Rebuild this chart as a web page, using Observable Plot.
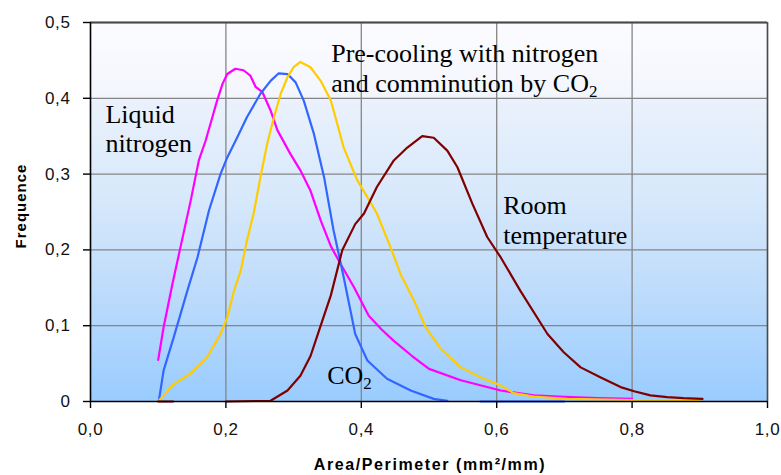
<!DOCTYPE html>
<html>
<head>
<meta charset="utf-8">
<script src="https://cdn.jsdelivr.net/npm/d3@7"></script>
<script src="https://cdn.jsdelivr.net/npm/@observablehq/plot@0.6"></script>
<style>
  html, body { margin: 0; padding: 0; background: #fff; }
</style>
</head>
<body>
<div id="chart"></div>
<script>
// ---- Data ----
const xTicks = [0, 0.2, 0.4, 0.6, 0.8, 1.0];
const yTicks = [0, 0.1, 0.2, 0.3, 0.4, 0.5];

// Liquid nitrogen (magenta)
const liquidX = [0.100,0.108,0.121,0.133,0.148,0.155,0.160,0.170,0.180,0.187,0.195,0.202,0.214,0.226,0.236,0.244,0.254,0.266,0.276,0.295,0.310,0.325,0.340,0.355,0.369,0.389,0.411,0.430,0.448,0.475,0.500,0.547,0.606,0.655,0.699,0.750,0.800];
const liquidY = [0.055,0.098,0.155,0.204,0.265,0.296,0.318,0.344,0.375,0.397,0.419,0.432,0.439,0.437,0.430,0.415,0.408,0.384,0.358,0.327,0.305,0.278,0.239,0.205,0.182,0.151,0.113,0.095,0.080,0.060,0.043,0.028,0.0145,0.008,0.006,0.0045,0.0035];

// CO2 (blue)
const co2X = [0.101,0.108,0.123,0.143,0.158,0.175,0.192,0.202,0.217,0.231,0.251,0.266,0.278,0.291,0.303,0.315,0.330,0.345,0.359,0.374,0.391,0.409,0.438,0.473,0.507,0.527,0.550,0.576,0.700];
const co2Y = [0.001,0.041,0.085,0.146,0.190,0.252,0.300,0.322,0.349,0.375,0.406,0.423,0.433,0.432,0.421,0.397,0.353,0.296,0.226,0.164,0.089,0.054,0.030,0.0145,0.0035,0.001,null,0,0];

// Pre-cooling with nitrogen and comminution by CO2 (yellow)
const precoolX = [0.101,0.123,0.148,0.172,0.192,0.202,0.212,0.222,0.231,0.241,0.251,0.261,0.271,0.281,0.291,0.300,0.310,0.325,0.340,0.355,0.374,0.394,0.414,0.423,0.443,0.458,0.478,0.495,0.517,0.547,0.576,0.606,0.625,0.655,0.704,0.800,0.900];
const precoolY = [0.001,0.023,0.037,0.058,0.089,0.111,0.146,0.173,0.212,0.248,0.296,0.340,0.375,0.406,0.428,0.441,0.448,0.441,0.423,0.397,0.335,0.292,0.262,0.248,0.204,0.168,0.133,0.098,0.070,0.045,0.032,0.021,0.011,0.0066,0.0035,0.002,0.002];

// Room temperature (dark red)
const roomX = [0.100,0.122,0.160,0.200,0.266,0.291,0.310,0.325,0.340,0.355,0.372,0.391,0.404,0.423,0.448,0.468,0.490,0.507,0.527,0.542,0.564,0.586,0.606,0.635,0.675,0.699,0.724,0.753,0.783,0.803,0.827,0.852,0.876,0.904];
const roomY = [0,0,null,0,0.001,0.0145,0.034,0.060,0.100,0.140,0.200,0.234,0.248,0.283,0.318,0.335,0.350,0.348,0.331,0.309,0.261,0.217,0.190,0.146,0.089,0.065,0.045,0.032,0.019,0.0136,0.008,0.0057,0.0044,0.0035];

// Annotation lines (data coordinates of each line's baseline start)
const labelText = ["Liquid", "nitrogen", "Pre-cooling with nitrogen", "and comminution by CO\u2082", "Room", "temperature", "CO\u2082"];
const labelX    = [0.022, 0.022, 0.3555, 0.3555, 0.6096, 0.6096, 0.3496];
const labelY    = [0.3668, 0.3285, 0.4476, 0.408, 0.2476, 0.208, 0.0234];

const series = [
  {xs: liquidX, ys: liquidY, color: "#ff00ff"},
  {xs: co2X, ys: co2Y, color: "#3366ff"},
  {xs: precoolX, ys: precoolY, color: "#ffcc00"},
  {xs: roomX, ys: roomY, color: "#800000"}
];

const fmt = d => d.toFixed(1).replace(".", ",");
const fmtY = d => d === 0 ? "0" : d.toFixed(1).replace(".", ",");

const labels = labelText.map((t, i) => ({text: t, x: labelX[i], y: labelY[i]}));

const svg = Plot.plot({
  width: 781,
  height: 475,
  marginTop: 22,
  marginRight: 14,
  marginBottom: 74,
  marginLeft: 90,
  style: {fontFamily: "'Liberation Sans', Arial, sans-serif", fontSize: "17px", background: "white", color: "black"},
  x: {domain: [0, 1], label: null},
  y: {domain: [0, 0.5], label: null},
  marks: [
    Plot.frame({fill: "url(#bgGrad)", stroke: "none"}),
    Plot.gridX(xTicks.filter(d => d > 0), {stroke: "#858585", strokeOpacity: 1, strokeWidth: 1.3}),
    Plot.gridY(yTicks.filter(d => d > 0), {stroke: "#858585", strokeOpacity: 1, strokeWidth: 1.3}),
    Plot.ruleY([0.5], {stroke: "#4a4a4a", strokeWidth: 1.8}),
    Plot.ruleX([1.0], {stroke: "#4a4a4a", strokeWidth: 1.5}),
    ...series.map(s => Plot.line(s.xs.map((x, i) => ({x, y: s.ys[i]})), {
      x: "x", y: "y", stroke: s.color, strokeWidth: 2.2
    })),
    Plot.ruleX([0], {stroke: "black", strokeWidth: 1.6}),
    Plot.ruleY([0], {stroke: "black", strokeWidth: 1.6}),
    Plot.axisX(xTicks, {tickSize: 7, tickPadding: 14, tickFormat: fmt, label: null, fontSize: 17, stroke: "black", strokeWidth: 1.4}),
    Plot.axisY(yTicks, {tickSize: 7, tickPadding: 13, tickFormat: fmtY, label: null, fontSize: 17, stroke: "black", strokeWidth: 1.4}),
    Plot.text(labels, {
      x: "x", y: "y", text: "text", textAnchor: "start", lineAnchor: "bottom",
      fontFamily: "'Liberation Serif', 'Times New Roman', serif", fontSize: 26, fill: "black"
    })
  ]
});

// gradient background definition
const ns = "http://www.w3.org/2000/svg";
const defs = document.createElementNS(ns, "defs");
const grad = document.createElementNS(ns, "linearGradient");
grad.setAttribute("id", "bgGrad");
grad.setAttribute("x1", "0"); grad.setAttribute("y1", "0");
grad.setAttribute("x2", "0"); grad.setAttribute("y2", "1");
[["0", "#fcfcff"], ["0.19", "#f4f6fd"], ["0.21", "#eaf1fc"], ["0.45", "#d8e9fb"], ["0.7", "#bfdcfb"], ["1", "#99ccff"]].forEach(([o, c]) => {
  const st = document.createElementNS(ns, "stop");
  st.setAttribute("offset", o); st.setAttribute("stop-color", c);
  grad.appendChild(st);
});
defs.appendChild(grad);
svg.insertBefore(defs, svg.firstChild);

// letter spacing for tick labels
svg.querySelectorAll("g[aria-label='x-axis tick label'] text, g[aria-label='y-axis tick label'] text").forEach(t => {
  t.setAttribute("letter-spacing", "0.6");
  t.setAttribute("fill", "#111");
});

// subscript 2
const walker = document.createTreeWalker(svg, NodeFilter.SHOW_TEXT);
const nodes = [];
while (walker.nextNode()) if (walker.currentNode.nodeValue.includes("\u2082")) nodes.push(walker.currentNode);
nodes.forEach(n => {
  const parts = n.nodeValue.split("\u2082");
  const parent = n.parentNode;
  const frag = document.createDocumentFragment();
  parts.forEach((p, i) => {
    if (p) frag.appendChild(document.createTextNode(p));
    if (i < parts.length - 1) {
      const ts = document.createElementNS(ns, "tspan");
      ts.setAttribute("font-size", "17");
      ts.setAttribute("dy", "5");
      ts.textContent = "2";
      frag.appendChild(ts);
    }
  });
  parent.replaceChild(frag, n);
});

// axis titles
const sel = d3.select(svg);
sel.append("text")
  .attr("transform", "translate(26,206) rotate(-90)")
  .attr("text-anchor", "middle")
  .attr("font-weight", "bold")
  .attr("font-size", 15)
  .attr("letter-spacing", "1")
  .attr("fill", "black")
  .text("Frequence");
sel.append("text")
  .attr("x", 430).attr("y", 470)
  .attr("text-anchor", "middle")
  .attr("font-weight", "bold")
  .attr("font-size", 16)
  .attr("letter-spacing", "1.6")
  .attr("fill", "black")
  .text("Area/Perimeter (mm\u00b2/mm)");

document.getElementById("chart").appendChild(svg);
</script>
</body>
</html>
